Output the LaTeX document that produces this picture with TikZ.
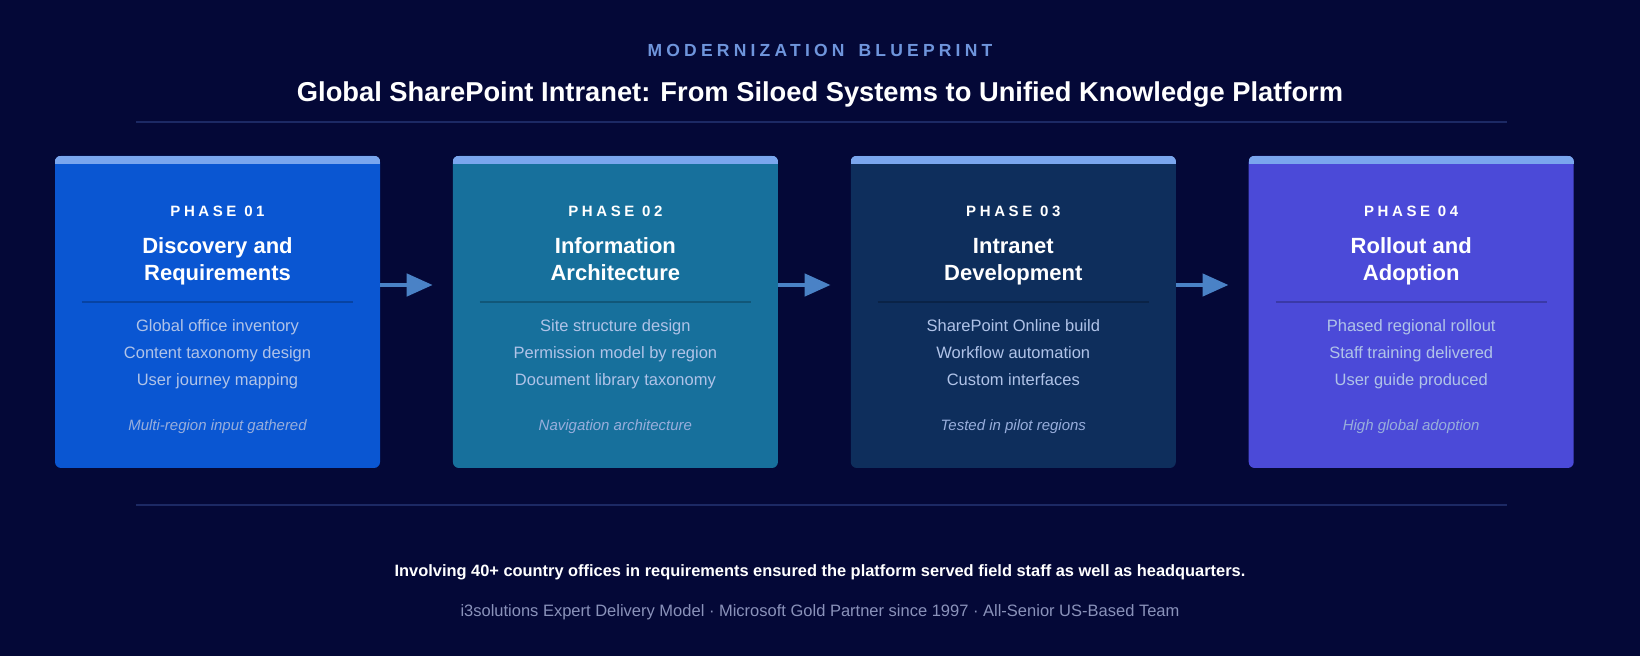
\documentclass[tikz,border=0pt]{standalone}
\usepackage{fontspec}
\setmainfont{Liberation Sans}
\newfontfamily\spacedfont[LetterSpace=24]{Liberation Sans}
\usetikzlibrary{arrows.meta, positioning}

\definecolor{bgnavy}{HTML}{040837}
\definecolor{rulenavy}{HTML}{1C2964}
\definecolor{kicker}{HTML}{6F95DC}
\definecolor{cardone}{HTML}{0A56D2}
\definecolor{cardtwo}{HTML}{17709C}
\definecolor{cardthree}{HTML}{0E2E5C}
\definecolor{cardfour}{HTML}{4B4AD8}
\definecolor{stripe}{HTML}{7AA6EE}
\definecolor{itemtext}{HTML}{B0C3E8}
\definecolor{notetext}{HTML}{98AEDC}
\definecolor{flow}{HTML}{4A82C6}
\definecolor{credit}{HTML}{8A92BA}

\begin{document}
\begin{tikzpicture}[
    x=1pt, y=1pt,
    node distance=72.5pt,
    card/.style={
        rectangle, rounded corners=6pt, inner sep=0pt,
        minimum width=325pt, minimum height=312pt
    },
    phaselbl/.style={font=\spacedfont\bfseries\fontsize{15}{18}\selectfont, text=white},
    phasetitle/.style={font=\bfseries\fontsize{22}{27}\selectfont, text=white, align=center,
        anchor=north, inner sep=0pt},
    items/.style={font=\fontsize{16.5}{27}\selectfont, text=itemtext, align=center,
        anchor=north, inner sep=0pt},
    note/.style={font=\itshape\fontsize{15}{18}\selectfont, text=notetext},
    divider/.style={draw=black, opacity=0.22, line width=1.5pt},
    hrule/.style={draw=rulenavy, line width=2pt},
    flowarrow/.style={draw=flow, line width=4.5pt, shorten >=20pt,
        -{Triangle[length=26pt, width=22pt]}}
]

% Background and frame
\fill[bgnavy] (0,0) rectangle (1640,656);
\useasboundingbox (0,0) rectangle (1640,656);

% Header
\node[font=\spacedfont\bfseries\fontsize{17.5}{20}\selectfont, text=kicker] (kicker) at (820,606)
    {MODERNIZATION\hspace{5pt} BLUEPRINT};
\node[font=\bfseries\fontsize{27.3}{30}\selectfont, text=white] (title) at (820,561)
    {Global SharePoint Intranet: From Siloed Systems to Unified Knowledge Platform};
\coordinate (topl) at (136,534);
\coordinate (topr) at (1507,534);
\draw[hrule] (topl) -- (topr);

% Phase cards
\node[card, fill=cardone] (p1) at (217.5,344) {};
\node[card, fill=cardtwo, right=of p1] (p2) {};
\node[card, fill=cardthree, right=of p2] (p3) {};
\node[card, fill=cardfour, right=of p3] (p4) {};

% Top stripes
\foreach \c in {p1,p2,p3,p4} {
    \begin{scope}
        \clip[rounded corners=6pt] (\c.south west) rectangle (\c.north east);
        \fill[stripe] ([yshift=-8pt]\c.north west) rectangle (\c.north east);
    \end{scope}
    \draw[divider] ([xshift=27pt, yshift=-146pt]\c.north west) -- ([xshift=-27pt, yshift=-146pt]\c.north east);
}

% Card texts
\node[phaselbl] (p1lbl) at ([yshift=-56pt]p1.north) {PHASE 01};
\node[phasetitle] (p1ttl) at ([yshift=-78.5pt]p1.north) {\strut Discovery and\\Requirements\strut};
\node[items] (p1items) at ([yshift=-157pt]p1.north) {\strut Global office inventory\\Content taxonomy design\\User journey mapping\strut};
\node[note] (p1note) at ([yshift=-271pt]p1.north) {Multi-region input gathered};

\node[phaselbl] (p2lbl) at ([yshift=-56pt]p2.north) {PHASE 02};
\node[phasetitle] (p2ttl) at ([yshift=-78.5pt]p2.north) {\strut Information\\Architecture\strut};
\node[items] (p2items) at ([yshift=-157pt]p2.north) {\strut Site structure design\\Permission model by region\\Document library taxonomy\strut};
\node[note] (p2note) at ([yshift=-271pt]p2.north) {Navigation architecture};

\node[phaselbl] (p3lbl) at ([yshift=-56pt]p3.north) {PHASE 03};
\node[phasetitle] (p3ttl) at ([yshift=-78.5pt]p3.north) {\strut Intranet\\Development\strut};
\node[items] (p3items) at ([yshift=-157pt]p3.north) {\strut SharePoint Online build\\Workflow automation\\Custom interfaces\strut};
\node[note] (p3note) at ([yshift=-271pt]p3.north) {Tested in pilot regions};

\node[phaselbl] (p4lbl) at ([yshift=-56pt]p4.north) {PHASE 04};
\node[phasetitle] (p4ttl) at ([yshift=-78.5pt]p4.north) {\strut Rollout and\\Adoption\strut};
\node[items] (p4items) at ([yshift=-157pt]p4.north) {\strut Phased regional rollout\\Staff training delivered\\User guide produced\strut};
\node[note] (p4note) at ([yshift=-271pt]p4.north) {High global adoption};

% Flow arrows
\draw[flowarrow] ([yshift=27pt]p1.east) -- ([yshift=27pt]p2.west);
\draw[flowarrow] ([yshift=27pt]p2.east) -- ([yshift=27pt]p3.west);
\draw[flowarrow] ([yshift=27pt]p3.east) -- ([yshift=27pt]p4.west);

% Footer
\coordinate (botl) at (136,151);
\coordinate (botr) at (1507,151);
\draw[hrule] (botl) -- (botr);
\node[font=\bfseries\fontsize{16.4}{20}\selectfont, text=white] (takeaway) at (820,84)
    {Involving 40+ country offices in requirements ensured the platform served field staff as well as headquarters.};
\node[font=\fontsize{16.5}{20}\selectfont, text=credit] (credit) at (820,44)
    {i3solutions Expert Delivery Model · Microsoft Gold Partner since 1997 · All-Senior US-Based Team};

\end{tikzpicture}
\end{document}
